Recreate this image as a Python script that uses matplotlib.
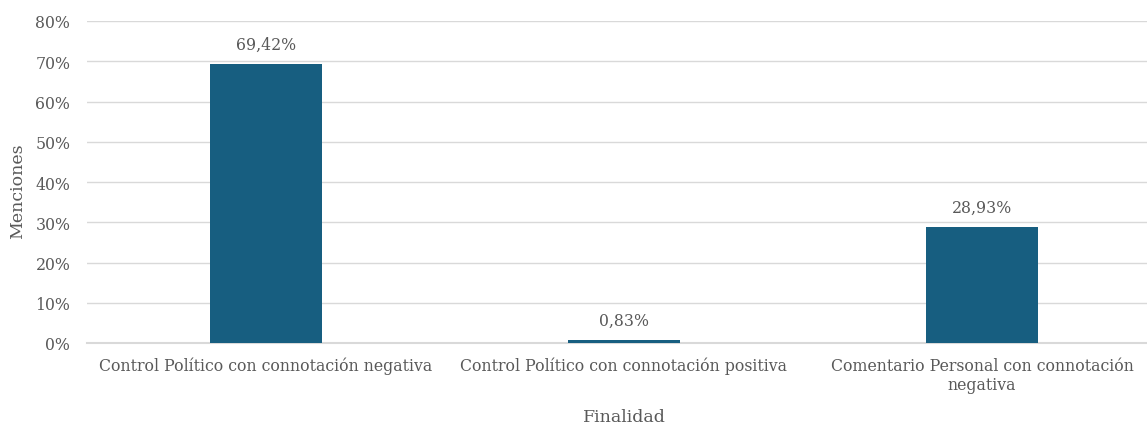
import matplotlib
matplotlib.use("Agg")
import matplotlib.pyplot as plt
from matplotlib.ticker import MultipleLocator, FuncFormatter

categories = ["Control Político con connotación negativa",
              "Control Político con connotación positiva",
              "Comentario Personal con connotación\nnegativa"]
values = [69.42, 0.83, 28.93]
labels = ["69,42%", "0,83%", "28,93%"]

plt.rcParams['font.family'] = ['DejaVu Serif']
grey = '#595959'

fig = plt.figure(figsize=(11.47, 4.27), dpi=100)
ax = fig.add_axes([87/1147, 83/427, 1060/1147, 322/427])
x = range(len(categories))
bars = ax.bar(x, values, width=0.313, color='#175E80', zorder=3)
for xi, v, lab in zip(x, values, labels):
    ax.text(xi, v + 2.6, lab, ha='center', va='bottom', fontsize=11.3, color=grey)

ax.set_xlim(-0.5, -0.5 + 1060/358)
ax.set_ylim(0, 80)
ax.yaxis.set_major_locator(MultipleLocator(10))
ax.yaxis.set_major_formatter(FuncFormatter(lambda v, p: f"{int(v)}%"))
ax.grid(axis='y', color='#D9D9D9', linewidth=1, zorder=0)
for s in ax.spines.values():
    s.set_visible(False)
ax.axhline(0, color='#D9D9D9', linewidth=1.5, zorder=2, clip_on=False)
ax.tick_params(axis='both', length=0, colors=grey, labelsize=11.3)
ax.tick_params(axis='y', pad=12)
ax.tick_params(axis='x', pad=10)
ax.set_xticks(list(x))
ax.set_xticklabels(categories)
for t in ax.get_yticklabels():
    t.set_ha('right')
ax.get_yticklabels()[-1].set_color('#A6A6A6')
ax.set_ylabel("Menciones", fontsize=12.5, color=grey)
ax.set_xlabel("Finalidad", fontsize=12.5, color=grey)
ax.yaxis.set_label_coords(-0.0651, 0.475)
ax.xaxis.set_label_coords(0.5066, -0.2298)
ax.yaxis.label.set_va('center')
ax.xaxis.label.set_va('center')
fig.savefig("out.png", dpi=100)
